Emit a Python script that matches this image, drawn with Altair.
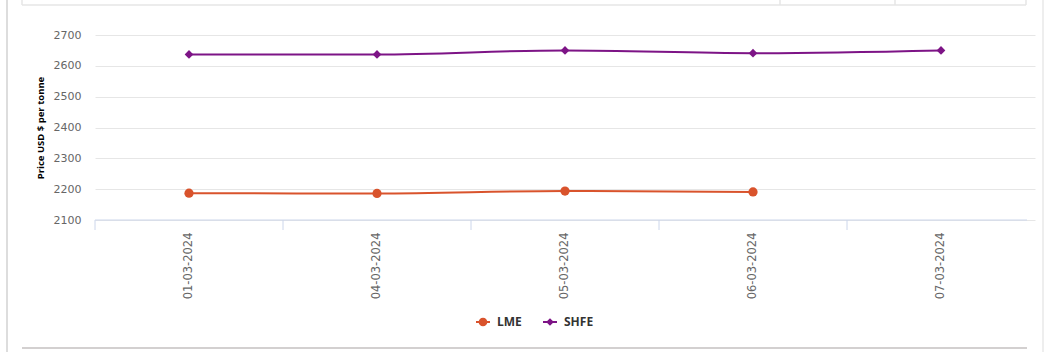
import altair as alt
import pandas as pd

dates = ["01-03-2024", "04-03-2024", "05-03-2024", "06-03-2024", "07-03-2024"]
lme = [2187, 2186, 2194, 2191, None]
shfe = [2637, 2637, 2650, 2641, 2650]
series_names = ["LME", "SHFE"]
series_colors = ["#d9532c", "#7d1486"]
y_ticks = [2100, 2200, 2300, 2400, 2500, 2600, 2700]

rows = []
for d, v in zip(dates, lme):
    if v is not None:
        rows.append({"date": d, "series": "LME", "price": v})
for d, v in zip(dates, shfe):
    if v is not None:
        rows.append({"date": d, "series": "SHFE", "price": v})
df = pd.DataFrame(rows)

W, H = 932, 185
FONT = "DejaVu Sans"

x_enc = alt.X("date:N", sort=dates,
              scale=alt.Scale(domain=dates, range=[0, 940], paddingInner=0, paddingOuter=0),
              axis=alt.Axis(title=None, labelAngle=-90, domain=False, ticks=False, tickSize=0,
                            labelPadding=12, labelColor="#666666", labelFontSize=11.5,
                            labelFont=FONT, grid=False))
y_enc = alt.Y("price:Q",
              scale=alt.Scale(domain=[2100, 2700], nice=False, zero=False),
              axis=alt.Axis(title="Price USD $ per tonne", values=y_ticks, format="d",
                            labelOverlap=False, domain=False,
                            ticks=False, labelPadding=14, labelColor="#666666",
                            labelFontSize=11, labelFont=FONT, gridColor="#e6e6e6",
                            titleFontSize=9.5, titleFontWeight="bold", titleColor="#000000",
                            titleFont="Open Sans", titlePadding=8))
color_scale = alt.Scale(domain=series_names, range=series_colors)

base = alt.Chart(df)

lines = base.mark_line(interpolate="monotone", strokeWidth=2).encode(
    x=x_enc, y=y_enc,
    color=alt.Color("series:N", scale=color_scale, legend=None),
    detail="series:N",
)

pts_lme = base.transform_filter(alt.datum.series == "LME").mark_point(
    filled=True, shape="circle", size=85, opacity=1).encode(
    x=x_enc, y=y_enc, color=alt.Color("series:N", scale=color_scale, legend=None))

pts_shfe = base.transform_filter(alt.datum.series == "SHFE").mark_point(
    filled=True, shape="diamond", size=75, opacity=1).encode(
    x=x_enc, y=y_enc, color=alt.Color("series:N", scale=color_scale, legend=None))

lme_path = ("M-1,-0.14 L1,-0.14 L1,0.14 L-1,0.14 Z "
            "M0.62,0 A0.62,0.62 0 1,1 -0.62,0 A0.62,0.62 0 1,1 0.62,0 Z")
shfe_path = ("M-1,-0.14 L1,-0.14 L1,0.14 L-1,0.14 Z "
             "M0,-0.55 L0.55,0 L0,0.55 L-0.55,0 Z")

legend_layer = base.mark_point(filled=True, size=0, opacity=1).encode(
    x=x_enc, y=y_enc,
    color=alt.Color("series:N", scale=color_scale,
                    legend=alt.Legend(title=None, orient="none", direction="horizontal",
                                      legendX=381, legendY=280, symbolSize=196,
                                      symbolOpacity=1, symbolStrokeWidth=0,
                                      labelFontSize=12, labelFont="Open Sans",
                                      labelFontWeight="bold",
                                      labelColor="#333333", columnPadding=21,
                                      labelOffset=7, padding=0)),
    shape=alt.Shape("series:N", scale=alt.Scale(domain=series_names, range=[lme_path, shfe_path])),
)

one = alt.Data(values=[{"a": 1}])

x_ticks = alt.Chart(df[df.series == "SHFE"]).mark_rule(color="#ccd6eb", strokeWidth=1).encode(
    x=alt.X("date:N", sort=dates, bandPosition=0), y=alt.value(H), y2=alt.value(H + 10))

domain_line = alt.Chart(one).mark_rule(color="#ccd6eb", strokeWidth=1).encode(
    x=alt.value(0), x2=alt.value(W), y=alt.value(H))

# page frame decorations
deco_color = "#e6e6e6"
deco = [
    alt.Chart(one).mark_rule(color="#dddddd", strokeWidth=2).encode(
        x=alt.value(-88), y=alt.value(-35), y2=alt.value(317)),
    alt.Chart(one).mark_rule(color="#eeeeee", strokeWidth=2).encode(
        x=alt.value(948), y=alt.value(-35), y2=alt.value(317)),
    alt.Chart(one).mark_rule(color="#c4c0c0", strokeWidth=1.5).encode(
        x=alt.value(-73), x2=alt.value(W), y=alt.value(313)),
    alt.Chart(one).mark_rule(color=deco_color, strokeWidth=1.5).encode(
        x=alt.value(-73), x2=alt.value(W - 1), y=alt.value(-30)),
    alt.Chart(one).mark_rule(color=deco_color, strokeWidth=1.5).encode(
        x=alt.value(-73), y=alt.value(-35), y2=alt.value(-30)),
    alt.Chart(one).mark_rule(color=deco_color, strokeWidth=1.5).encode(
        x=alt.value(685), y=alt.value(-35), y2=alt.value(-30)),
    alt.Chart(one).mark_rule(color=deco_color, strokeWidth=1.5).encode(
        x=alt.value(800), y=alt.value(-35), y2=alt.value(-30)),
    alt.Chart(one).mark_rule(color=deco_color, strokeWidth=1.5).encode(
        x=alt.value(W - 1), y=alt.value(-35), y2=alt.value(-30)),
]

chart = alt.layer(lines, pts_lme, pts_shfe, legend_layer, x_ticks, domain_line, *deco).resolve_legend(
    color="independent", shape="independent"
).properties(
    width=W, height=H,
    autosize=alt.AutoSizeParams(type="none"),
    padding={"left": 95, "top": 35, "right": 18, "bottom": 132},
    background="white",
).configure_view(stroke=None)

chart.save("out.html", embed_options={"renderer": "svg", "actions": False})
